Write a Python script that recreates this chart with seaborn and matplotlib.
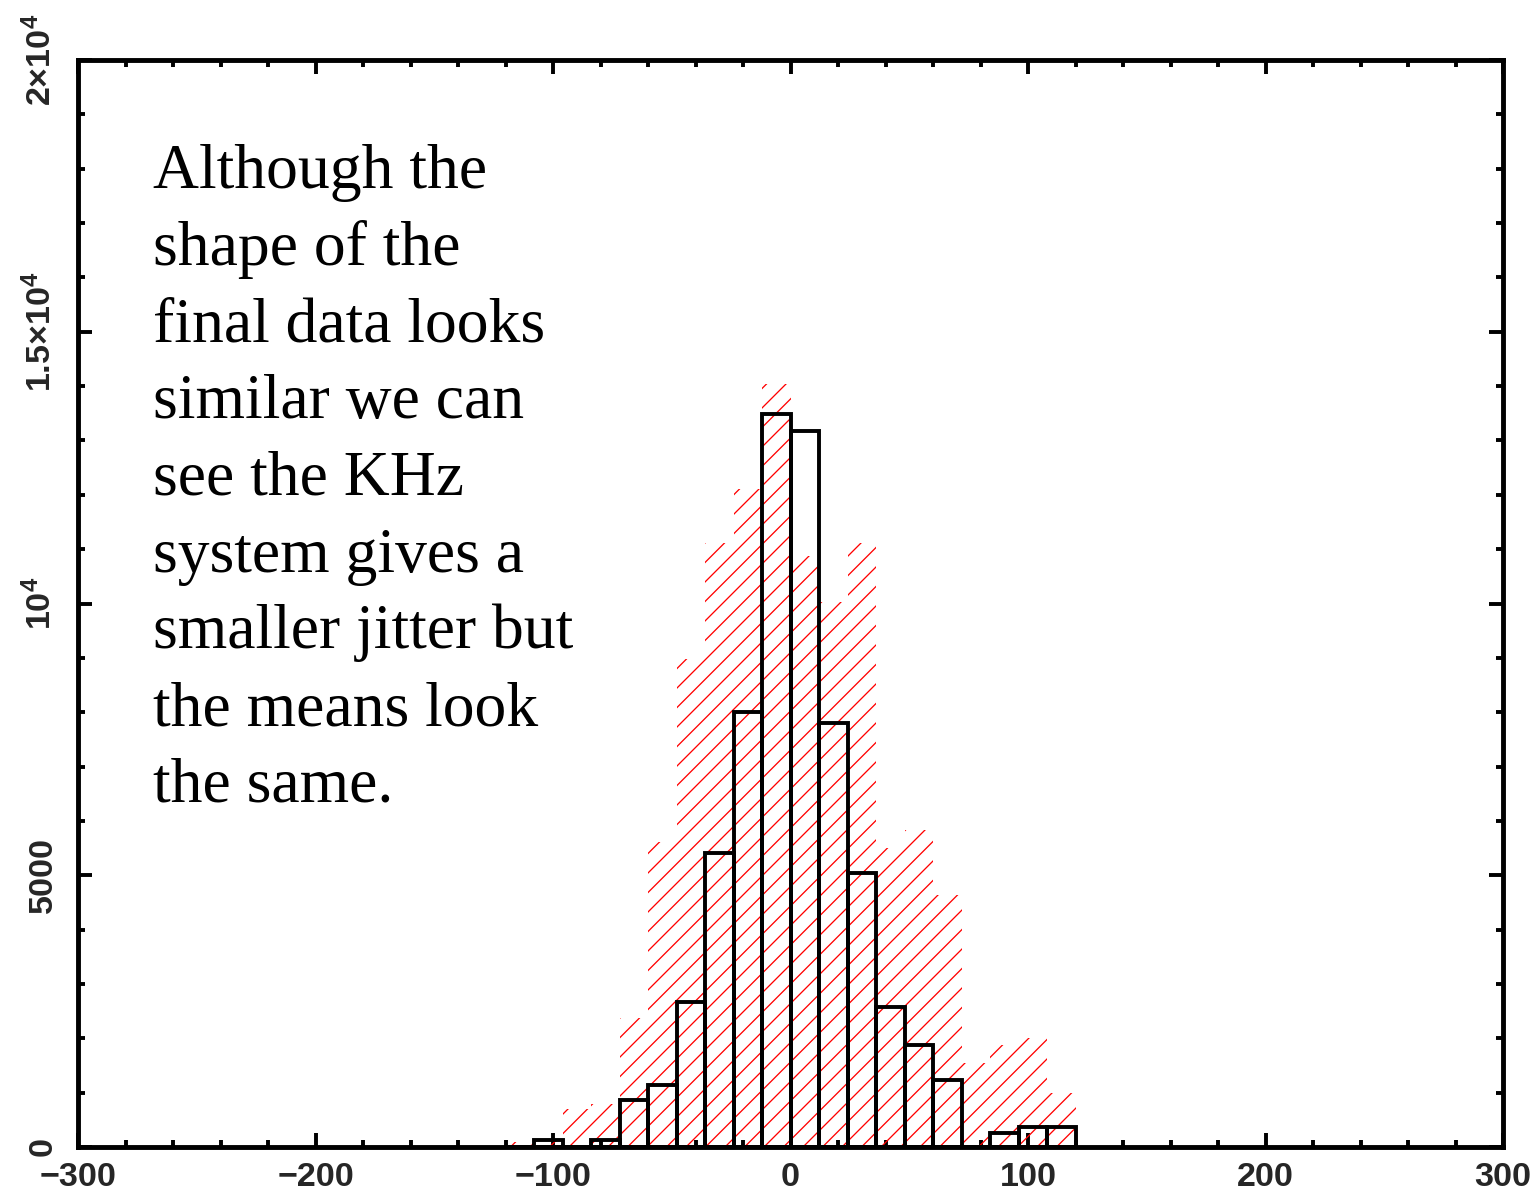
import numpy as np
import pandas as pd
import matplotlib
matplotlib.use("Agg")
import matplotlib.pyplot as plt
import seaborn as sns
from matplotlib.ticker import MultipleLocator, FixedLocator

# ---- data -------------------------------------------------------------
bin_edges = [-120, -108, -96, -84, -72, -60, -48, -36, -24, -12, 0,
             12, 24, 36, 48, 60, 72, 84, 96, 108, 120]
bin_centers = [-114, -102, -90, -78, -66, -54, -42, -30, -18, -6,
               6, 18, 30, 42, 54, 66, 78, 90, 102, 114]

# hatched (red) distribution
counts_red = [100, 150, 700, 800, 2380, 5620, 8970, 11120, 12100, 14030,
              10870, 10020, 11120, 5500, 5840, 4640, 1550, 1880, 2000, 1000]
# outlined (black) distribution -- KHz system
counts_black = [0, 130, 0, 130, 865, 1140, 2670, 5410, 8010, 13480,
                13170, 7810, 5050, 2580, 1880, 1230, 0, 250, 370, 370]

x_ticks = [-300, -200, -100, 0, 100, 200, 300]
x_tick_labels = ["\u2212300", "\u2212200", "\u2212100", "0", "100", "200", "300"]
y_ticks = [0, 5000, 10000, 15000, 20000]
y_tick_labels = ["0", "5000", "10$^4$", "1.5\u00d710$^4$", "2\u00d710$^4$"]

note_lines = ["Although the", "shape of the", "final data looks",
              "similar we can", "see the KHz", "system gives a",
              "smaller jitter but", "the means look", "the same."]

df = pd.DataFrame({"center": bin_centers, "red": counts_red,
                   "black": counts_black})

# ---- style ------------------------------------------------------------
sns.set_style("white")
plt.rcParams["font.family"] = ["Liberation Sans", "DejaVu Sans"]
plt.rcParams["font.weight"] = "bold"
plt.rcParams["mathtext.fontset"] = "custom"
plt.rcParams["mathtext.rm"] = "Liberation Sans:bold"
plt.rcParams["mathtext.it"] = "Liberation Sans:bold:italic"
plt.rcParams["mathtext.bf"] = "Liberation Sans:bold"
plt.rcParams["hatch.linewidth"] = 0.8

W, H, DPI = 1539, 1197, 117
fig = plt.figure(figsize=(W / DPI, H / DPI), dpi=DPI, facecolor="white")
ax = fig.add_axes([78 / W, 1 - 1147 / H, (1503 - 78) / W, (1147 - 60) / H])

sns.histplot(data=df, x="center", weights="red", bins=bin_edges,
             element="bars", fill=True, facecolor="none", edgecolor="red",
             linewidth=0, hatch="//", ax=ax, zorder=1)
sns.histplot(data=df, x="center", weights="black", bins=bin_edges,
             element="bars", fill=False, color="black", linewidth=2.4,
             ax=ax, zorder=2)

ax.set_xlim(-300, 300)
ax.set_ylim(0, 20000)
ax.set_xlabel("")
ax.set_ylabel("")

ax.xaxis.set_major_locator(FixedLocator(x_ticks))
ax.xaxis.set_minor_locator(MultipleLocator(20))
ax.yaxis.set_major_locator(FixedLocator(y_ticks))
ax.yaxis.set_minor_locator(MultipleLocator(1000))
ax.set_xticklabels(x_tick_labels)
ax.set_yticklabels(y_tick_labels, rotation=90, va="center")

ax.tick_params(which="both", direction="in", top=True, right=True,
               bottom=True, left=True, width=2.4, color="black")
ax.tick_params(which="major", length=8.5)
ax.tick_params(which="minor", length=4.5)
ax.tick_params(axis="x", which="major", labelsize=21, pad=9)
ax.tick_params(axis="y", which="major", labelsize=21, pad=12)

for sp in ax.spines.values():
    sp.set_visible(True)
    sp.set_linewidth(3.0)
    sp.set_color("black")
    sp.set_zorder(5)

# annotation block
for i, line in enumerate(note_lines):
    fig.text(153 / W, 1 - (188 + i * 76.75) / H, line,
             family=["Liberation Serif", "DejaVu Serif"], fontsize=39.2,
             fontweight="normal", ha="left", va="baseline", color="black")

fig.savefig("out.png", dpi=DPI, facecolor="white")
